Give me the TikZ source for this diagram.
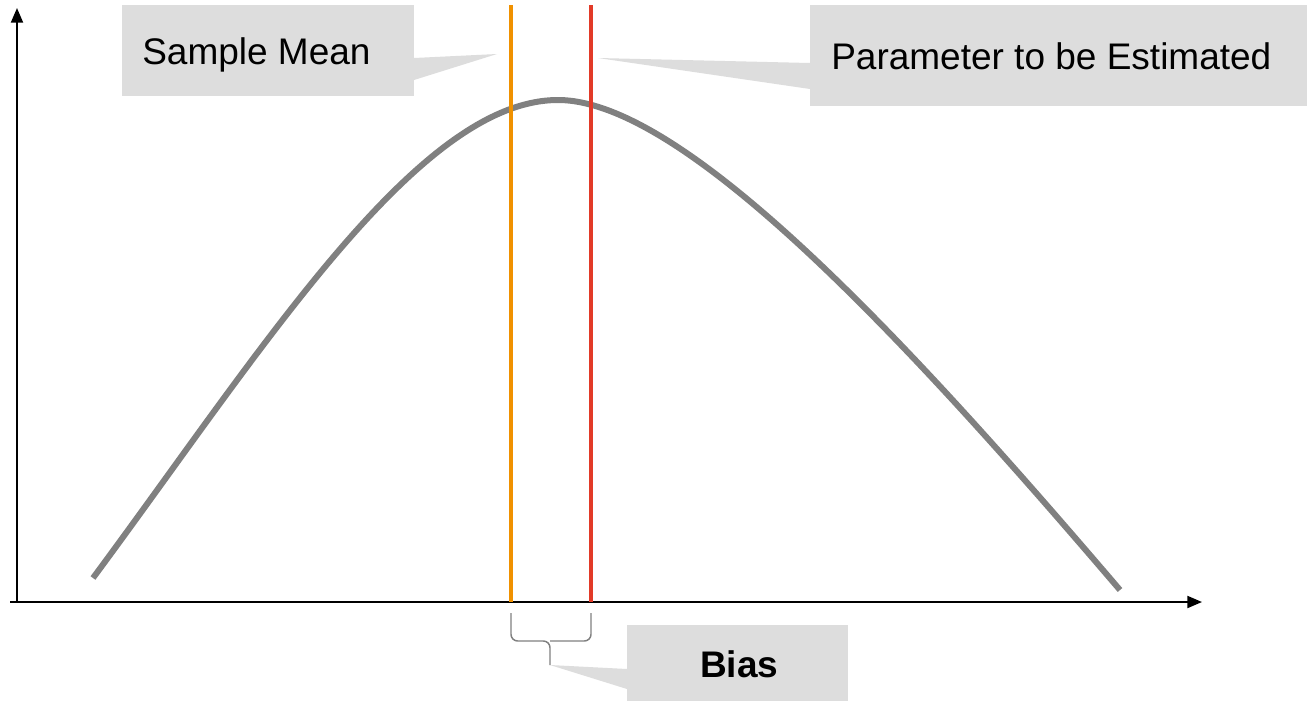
\documentclass[tikz,border=0pt]{standalone}
\usepackage{fontspec}
\setmainfont{Liberation Sans}
\usetikzlibrary{arrows.meta}
\definecolor{boxgray}{RGB}{221,221,221}
\definecolor{curvegray}{RGB}{128,128,128}
\definecolor{meanorange}{RGB}{240,145,0}
\definecolor{paramred}{RGB}{226,58,40}
\tikzset{
  axisline/.style={line width=1.5pt,-{Triangle[length=11pt,width=9pt]}},
  calloutfill/.style={fill=boxgray},
  labeltext/.style={anchor=base west,inner sep=0pt,font=\fontsize{27.75}{33}\selectfont},
  markline/.style={line width=3pt},
  bracestyle/.style={draw=curvegray,line width=1.1pt,rounded corners=5pt}
}
\begin{document}
\begin{tikzpicture}[x=0.75pt,y=-0.75pt]
\useasboundingbox[fill=white] (0,0) rectangle (1307,701);
% axes
\coordinate (origin) at (17,602);
\coordinate (xstart) at (10,602);
\coordinate (xend) at (1202,602);
\coordinate (yend) at (17,8);
\draw[axisline] (xstart) -- (xend);
\draw[axisline] (origin) -- (yend);
% curve
\coordinate (cleft) at (93,578);
\coordinate (cpeak) at (558,100);
\coordinate (cright) at (1120,590);
\draw[curvegray,line width=4.5pt] (cleft) .. controls (263,348.5) and (418,100) .. (cpeak)
  .. controls (688,100) and (920,356) .. (cright);
% vertical lines
\coordinate (mtop) at (511,5);
\coordinate (mbot) at (511,602);
\coordinate (ptop) at (591,5);
\coordinate (pbot) at (591,602);
\draw[markline,meanorange] (mtop) -- (mbot);
\draw[markline,paramred] (ptop) -- (pbot);
% Sample Mean callout
\coordinate (smtip) at (497,54);
\fill[calloutfill] (122,5) rectangle (414,96);
\fill[calloutfill] (414,58) -- (smtip) -- (414,80) -- cycle;
\node[labeltext] (smtext) at (142,64) {Sample Mean};
% Parameter callout
\coordinate (pmtip) at (598,58);
\fill[calloutfill] (810,5) rectangle (1307,106);
\fill[calloutfill] (810,63) -- (pmtip) -- (810,89) -- cycle;
\node[labeltext] (pmtext) at (831,69) {Parameter to be Estimated};
% Bias brace
\coordinate (bl) at (511,613);
\coordinate (br) at (591,613);
\coordinate (btip) at (550,665);
\draw[bracestyle] (bl) -- (511,641) -- (550,641) -- (btip);
\draw[bracestyle] (br) -- (591,641) -- (550,641);
% Bias callout
\fill[calloutfill] (627,625) rectangle (848,701);
\fill[calloutfill] (627,669) -- (btip) -- (627,689) -- cycle;
\node[labeltext,font=\fontsize{27.75}{33}\selectfont\bfseries] (biastext) at (700,677) {Bias};
\end{tikzpicture}
\end{document}
